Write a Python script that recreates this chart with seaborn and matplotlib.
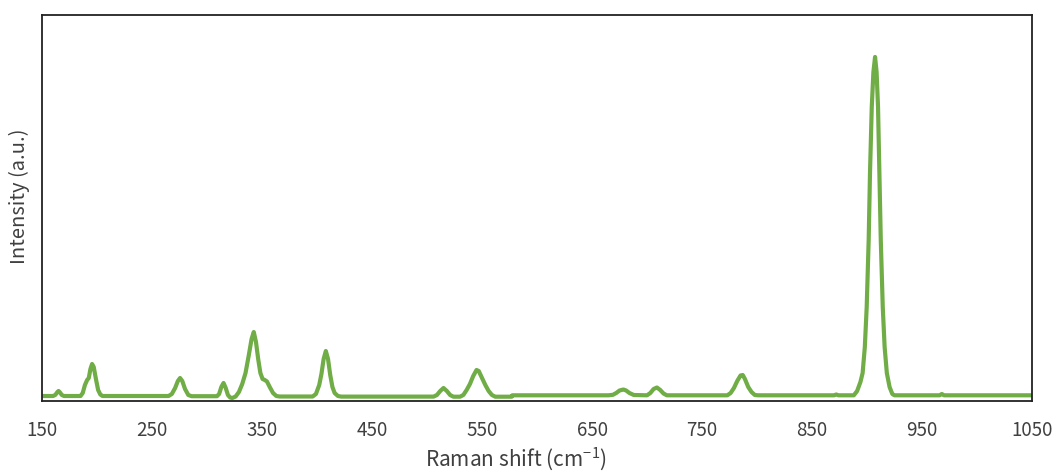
import matplotlib
matplotlib.use("Agg")
import matplotlib.pyplot as plt
import seaborn as sns
import pandas as pd

# Raman spectrum samples: shift (cm^-1) and intensity (arbitrary units)
raman_shift = [
    150, 160, 162, 164, 165, 166, 168, 170,
    185, 187, 189, 191, 192.5, 194, 195.5, 197, 199, 201, 203, 205,
    265, 268, 271, 273.5, 275.5, 277.5, 280, 283, 286,
    309, 311, 313, 315, 317, 319, 321, 323, 326,
    329, 332, 335, 338, 340.5, 342.5, 344.5, 346.5, 348.5, 350.5, 352.5, 354.5, 357, 360, 363, 366,
    396, 399, 402, 404, 406, 408, 410, 412, 414, 416, 419, 422,
    506, 509, 512, 515, 518, 521, 524,
    530, 533, 536, 539, 542, 545, 547, 550, 553, 556, 559, 562,
    577, 577.5,
    665, 669, 672, 675, 678.5, 681, 684, 688,
    700, 703, 706, 709, 712, 715, 718,
    773, 776, 779, 782, 785, 787, 789, 792, 795, 798, 801,
    870, 872, 874,
    888, 891, 894, 896, 898, 899.7, 901.5, 902.7, 904.3, 905.8, 907.3,
    908.7, 910, 911.2, 912.5, 914.3, 916, 918, 920.5, 923, 925,
    966, 968, 970, 1050,
]
intensity = [
    1.0, 1.0, 2.0, 5.0, 6.0, 5.0, 2.0, 1.0,
    1.0, 4.0, 12.0, 17.0, 19.0, 28.0, 33.0, 30.0, 18.0, 7.0, 2.5, 1.0,
    1.0, 3.0, 9.0, 16.0, 19.0, 16.0, 8.0, 2.0, 0.8,
    0.8, 3.0, 10.0, 14.0, 9.0, 2.0, -0.5, -1.0, 0.5,
    5.0, 13.0, 24.0, 42.0, 58.0, 65.0, 55.0, 38.0, 24.0, 18.0, 17.0, 15.5, 10.0, 4.0, 1.0, 0.5,
    0.5, 3.0, 12.0, 23.0, 38.0, 46.0, 38.0, 22.0, 10.0, 4.0, 1.0, 0.4,
    0.4, 2.0, 6.0, 9.0, 6.0, 2.0, 0.3,
    0.3, 2.0, 7.0, 13.0, 21.0, 27.0, 26.0, 19.0, 12.0, 6.0, 2.0, 0.3,
    0.3, 1.7,
    1.7, 2.2, 4.0, 6.5, 7.5, 6.5, 4.0, 2.0,
    1.7, 4.0, 8.0, 9.5, 7.0, 3.5, 1.7,
    1.7, 4.0, 9.0, 16.0, 21.5, 22.0, 18.0, 10.0, 5.0, 2.0, 1.7,
    1.7, 2.5, 1.7,
    1.7, 6.0, 15.0, 24.0, 50.0, 90.0, 157.0, 224.0, 290.0, 325.0, 340.0,
    325.0, 290.0, 224.0, 157.0, 90.0, 50.0, 24.0, 10.0, 3.0, 1.7,
    1.7, 3.0, 1.7, 1.7,
]
x_ticks = [150, 250, 350, 450, 550, 650, 750, 850, 950, 1050]

spectrum = pd.DataFrame({"shift": raman_shift, "intensity": intensity})

sns.set_style("white")
plt.rcParams["font.family"] = ["Noto Sans CJK JP", "DejaVu Sans"]

fig = plt.figure(figsize=(10.56, 4.74), dpi=100)
ax = fig.add_axes([0.0398, 0.154, 0.9375, 0.8144])

sns.lineplot(data=spectrum, x="shift", y="intensity", ax=ax,
             color="#70AD47", linewidth=3.0, sort=False, estimator=None)

ax.set_xlim(150, 1050)
ax.set_ylim(-4, 382)
ax.set_xticks(x_ticks)
ax.set_xticklabels([str(t) for t in x_ticks], fontsize=13.5, color="#404040")
ax.set_yticks([])
ax.tick_params(axis="x", length=0, pad=14)
ax.set_xlabel("")
ax.set_ylabel("")

for side in ["left", "right", "top", "bottom"]:
    ax.spines[side].set_visible(True)
    ax.spines[side].set_color("#222222")
    ax.spines[side].set_linewidth(1.3)

fig.text(516 / 1056, 1 - 459 / 474, r"Raman shift (cm$^{\mathregular{-1}}$)",
         ha="center", va="center", fontsize=15, color="#404040")
fig.text(19 / 1056, 1 - 196 / 474, "Intensity (a.u.)", rotation=90,
         ha="center", va="center", fontsize=14.5, color="#404040")

fig.savefig("out.png", dpi=100)
